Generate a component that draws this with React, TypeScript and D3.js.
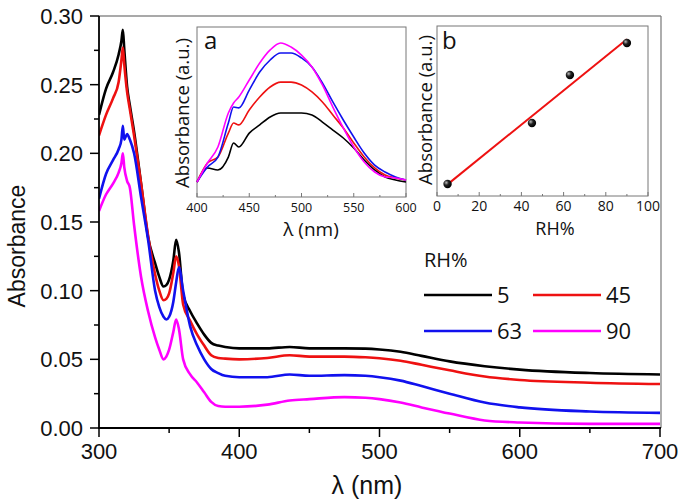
import React from "react";
import * as d3 from "d3";

// ---------- Main plot data ----------
const wavelengths = [300,305,310,314,316,317,318,320,322,325,330,335,340,343,346,348,350,353,355,357,360,365,370,375,380,385,390,400,420,436,450,475,490,500,515,530,550,575,600,650,700];
const rh5 = [0.228,0.247,0.259,0.272,0.282,0.29,0.276,0.249,0.235,0.216,0.178,0.139,0.12,0.11,0.103,0.104,0.108,0.122,0.137,0.128,0.097,0.085,0.076,0.068,0.062,0.060,0.059,0.058,0.058,0.059,0.058,0.058,0.0578,0.0572,0.0555,0.0525,0.0485,0.045,0.0425,0.040,0.039];
const rh45 = [0.213,0.228,0.24,0.252,0.268,0.277,0.265,0.245,0.232,0.213,0.178,0.14,0.112,0.1,0.093,0.094,0.098,0.113,0.125,0.118,0.09,0.078,0.068,0.06,0.053,0.051,0.0505,0.05,0.051,0.053,0.052,0.052,0.0515,0.0508,0.049,0.046,0.042,0.0375,0.035,0.033,0.032];
const rh63 = [0.167,0.185,0.195,0.203,0.21,0.22,0.21,0.214,0.21,0.2,0.168,0.137,0.1,0.088,0.081,0.079,0.081,0.092,0.106,0.117,0.1,0.074,0.06,0.05,0.043,0.040,0.038,0.037,0.037,0.039,0.038,0.0385,0.038,0.037,0.0345,0.0305,0.025,0.0185,0.015,0.012,0.011];
const rh90 = [0.158,0.17,0.178,0.186,0.193,0.2,0.19,0.18,0.175,0.148,0.11,0.085,0.066,0.057,0.05,0.052,0.057,0.07,0.079,0.072,0.05,0.039,0.033,0.026,0.019,0.016,0.0155,0.0155,0.017,0.02,0.021,0.0225,0.022,0.021,0.0185,0.015,0.0105,0.0055,0.004,0.003,0.003];
const seriesNames = ["5", "45", "63", "90"];
const seriesColors = ["#000000", "#ee1111", "#1111ee", "#ff00ff"];
const yTicks = [0, 0.05, 0.1, 0.15, 0.2, 0.25, 0.3];
const xTicks = [300, 400, 500, 600, 700];

// ---------- Inset a data ----------
const insetWl = [400,410,420,430,435,440,450,460,470,480,490,500,510,520,530,540,550,560,570,580,590,600];
const inA5 = [0.088,0.171,0.159,0.235,0.318,0.294,0.376,0.424,0.471,0.494,0.494,0.494,0.482,0.441,0.394,0.347,0.288,0.218,0.159,0.118,0.1,0.088];
const inA45 = [0.088,0.2,0.235,0.376,0.435,0.424,0.512,0.588,0.647,0.676,0.676,0.659,0.618,0.559,0.482,0.406,0.318,0.235,0.171,0.129,0.112,0.1];
const inA63 = [0.088,0.176,0.235,0.435,0.529,0.524,0.629,0.735,0.806,0.847,0.847,0.818,0.765,0.671,0.559,0.453,0.353,0.259,0.188,0.147,0.118,0.1];
const inA90 = [0.088,0.2,0.294,0.494,0.553,0.588,0.688,0.788,0.865,0.906,0.882,0.835,0.765,0.659,0.529,0.406,0.294,0.206,0.147,0.118,0.112,0.1];
const insetATicks = [400, 450, 500, 550, 600];

// ---------- Inset b data ----------
const rhValues = [5, 45, 63, 90];
const peakAbs = [0.071, 0.429, 0.712, 0.9];
const insetBTicks = [0, 20, 40, 60, 80, 100];

const MAIN_FONT = "'Liberation Sans', Arial, sans-serif";
const INSET_FONT = "'Open Sans', 'Noto Sans', sans-serif";

export default function App() {
  const W = 685, H = 504;
  const x = d3.scaleLinear().domain([300, 700]).range([99, 660]);
  const y = d3.scaleLinear().domain([0, 0.3]).range([428, 16]);
  const mainSeries = [rh5, rh45, rh63, rh90];
  const mainLine = (vals: number[]) =>
    d3.line<number>().x((_, i) => x(wavelengths[i])).y((v) => y(v)).curve(d3.curveMonotoneX)(vals) || "";
  const xMinor = d3.range(350, 700, 100);
  const yMinor = d3.range(0.025, 0.3, 0.05);

  const ax = d3.scaleLinear().domain([400, 600]).range([197, 406]);
  const ay = d3.scaleLinear().domain([0, 1]).range([197, 27]);
  const insetSeries = [inA5, inA45, inA63, inA90];
  const insetLine = (vals: number[]) =>
    d3.line<number>().x((_, i) => ax(insetWl[i])).y((v) => ay(v)).curve(d3.curveMonotoneX)(vals) || "";
  const aMinor = d3.range(425, 600, 50);

  const bx = d3.scaleLinear().domain([0, 100]).range([437, 648]);
  const by = d3.scaleLinear().domain([0, 1]).range([196, 26]);
  const bMinor = d3.range(10, 100, 20);
  const mx = d3.mean(rhValues) as number;
  const my = d3.mean(peakAbs) as number;
  let sxy = 0, sxx = 0;
  rhValues.forEach((v, i) => { sxy += (v - mx) * (peakAbs[i] - my); sxx += (v - mx) * (v - mx); });
  const slope = sxy / sxx;
  const icpt = my - slope * mx;
  const fitX = [rhValues[0], rhValues[rhValues.length - 1]];

  const frameColor = "#777";

  return (
    <svg width={W} height={H} style={{ position: "absolute", left: 0, top: 0, background: "#fff" }}>
      <defs>
        <radialGradient id="ball" cx="35%" cy="35%" r="65%">
          <stop offset="0%" stopColor="#bbb" />
          <stop offset="45%" stopColor="#222" />
          <stop offset="100%" stopColor="#000" />
        </radialGradient>
        <clipPath id="mainClip"><rect x={99} y={16} width={561} height={412} /></clipPath>
      </defs>
      <rect width={W} height={H} fill="#fff" />

      <line x1={99} x2={661} y1={16} y2={16} stroke="#555" strokeWidth={1.2} />
      <line x1={661} x2={661} y1={16} y2={428} stroke="#777" strokeWidth={1.2} />

      <g clipPath="url(#mainClip)">
        {mainSeries.map((s, i) => (
          <path key={i} d={mainLine(s)} fill="none" stroke={seriesColors[i]} strokeWidth={2.6} strokeLinejoin="round" />
        ))}
      </g>

      <line x1={99} x2={99} y1={16} y2={429} stroke="#000" strokeWidth={1.8} />
      <line x1={98} x2={661} y1={428} y2={428} stroke="#000" strokeWidth={1.8} />
      {yTicks.map((t) => (
        <g key={t}>
          <line x1={90} x2={99} y1={y(t)} y2={y(t)} stroke="#000" strokeWidth={1.5} />
          <text x={83} y={y(t)} dy="0.36em" textAnchor="end" fontFamily={MAIN_FONT} fontSize={22} fill="#111">{t.toFixed(2)}</text>
        </g>
      ))}
      {yMinor.map((t) => (
        <line key={t} x1={94} x2={99} y1={y(t)} y2={y(t)} stroke="#000" strokeWidth={1.5} />
      ))}
      {xTicks.map((t) => (
        <g key={t}>
          <line x1={x(t)} x2={x(t)} y1={428} y2={437} stroke="#000" strokeWidth={1.5} />
          <text x={x(t)} y={459} textAnchor="middle" fontFamily={MAIN_FONT} fontSize={22} fill="#111">{t}</text>
        </g>
      ))}
      {xMinor.map((t) => (
        <line key={t} x1={x(t)} x2={x(t)} y1={428} y2={433} stroke="#000" strokeWidth={1.5} />
      ))}
      <text transform="translate(25,246) rotate(-90)" textAnchor="middle" fontFamily={MAIN_FONT} fontSize={23} fill="#111">Absorbance</text>
      <text x={367} y={494} textAnchor="middle" fontFamily={MAIN_FONT} fontSize={25} fill="#111">λ (nm)</text>

      <text x={424} y={267} fontFamily={INSET_FONT} fontSize={20} fill="#111">RH%</text>
      {seriesNames.map((n, i) => {
        const col = i % 2;
        const row = Math.floor(i / 2);
        const lx = col === 0 ? 424 : 533;
        const ly = row === 0 ? 295 : 331;
        return (
          <g key={n}>
            <line x1={lx} x2={lx + 68} y1={ly} y2={ly} stroke={seriesColors[i]} strokeWidth={2.6} />
            <text x={lx + 73} y={ly} dy="0.36em" fontFamily={INSET_FONT} fontSize={22} fill="#111">{n}</text>
          </g>
        );
      })}

      {/* inset a */}
      <rect x={197} y={27} width={209} height={170} fill="#fff" stroke={frameColor} strokeWidth={1} />
      {insetSeries.map((s, i) => (
        <path key={i} d={insetLine(s)} fill="none" stroke={seriesColors[i]} strokeWidth={1.6} strokeLinejoin="round" />
      ))}
      {insetATicks.map((t) => (
        <g key={t}>
          <line x1={ax(t)} x2={ax(t)} y1={197} y2={193} stroke={frameColor} />
          <text x={ax(t)} y={212} textAnchor="middle" fontFamily={INSET_FONT} fontSize={12.5} fill="#111">{t}</text>
        </g>
      ))}
      {aMinor.map((t) => (
        <line key={t} x1={ax(t)} x2={ax(t)} y1={197} y2={195} stroke={frameColor} />
      ))}
      <text x={204} y={49} fontFamily={INSET_FONT} fontSize={24} fill="#111">a</text>
      <text transform="translate(189,113) rotate(-90)" textAnchor="middle" fontFamily={INSET_FONT} fontSize={18.5} fill="#111">Absorbance (a.u.)</text>
      <text x={311} y={236} textAnchor="middle" fontFamily={INSET_FONT} fontSize={19} fill="#111">λ (nm)</text>

      {/* inset b */}
      <rect x={437} y={26} width={211} height={170} fill="#fff" stroke={frameColor} strokeWidth={1} />
      <line x1={bx(fitX[0])} x2={bx(fitX[1])} y1={by(icpt + slope * fitX[0])} y2={by(icpt + slope * fitX[1])} stroke="#ee1111" strokeWidth={2} />
      {rhValues.map((v, i) => (
        <circle key={v} cx={bx(v)} cy={by(peakAbs[i])} r={4.2} fill="url(#ball)" />
      ))}
      {insetBTicks.map((t) => (
        <g key={t}>
          <line x1={bx(t)} x2={bx(t)} y1={196} y2={192} stroke={frameColor} />
          <text x={bx(t)} y={211} textAnchor="middle" fontFamily={INSET_FONT} fontSize={14} fill="#111">{t}</text>
        </g>
      ))}
      {bMinor.map((t) => (
        <line key={t} x1={bx(t)} x2={bx(t)} y1={196} y2={194} stroke={frameColor} />
      ))}
      <text x={442} y={49} fontFamily={INSET_FONT} fontSize={24} fill="#111">b</text>
      <text transform="translate(432,110) rotate(-90)" textAnchor="middle" fontFamily={INSET_FONT} fontSize={18.5} fill="#111">Absorbance (a.u.)</text>
      <text x={555} y={235} textAnchor="middle" fontFamily={INSET_FONT} fontSize={18} fill="#111">RH%</text>
    </svg>
  );
}
